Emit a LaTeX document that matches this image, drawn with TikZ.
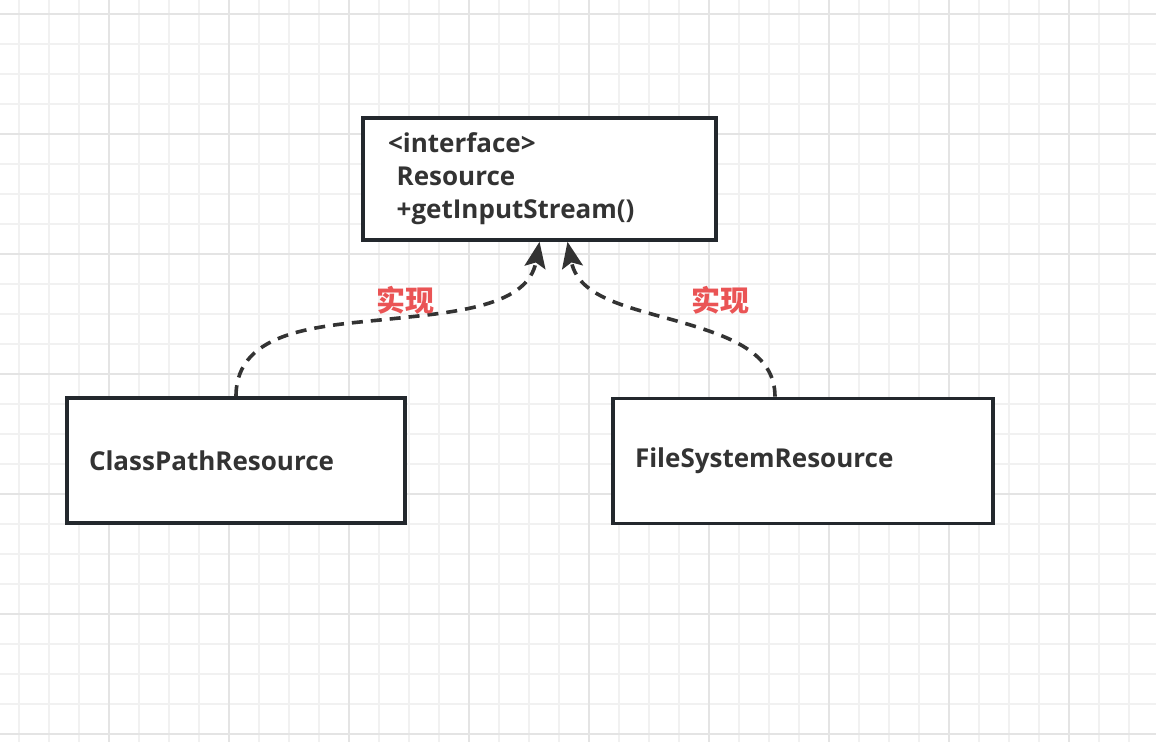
\documentclass[tikz,border=0pt]{standalone}
\usepackage{fontspec}
\setmainfont{Open Sans}
\newfontfamily\cjk{Noto Sans CJK SC}
\usetikzlibrary{arrows.meta}

\definecolor{boxline}{RGB}{35,40,45}
\definecolor{textgray}{RGB}{51,51,51}
\definecolor{arrowgray}{RGB}{51,51,51}
\definecolor{labelred}{RGB}{234,84,85}
\definecolor{gridminor}{RGB}{241,241,241}
\definecolor{gridmajor}{RGB}{228,228,228}

\tikzset{
  classbox/.style={draw=boxline, line width=1.8pt, fill=white, align=left,
    text=textgray, font=\bfseries\fontsize{13pt}{16.5pt}\selectfont,
    inner xsep=11pt, minimum height=62.5pt},
  implements/.style={draw=arrowgray, line width=1.8pt, dash pattern=on 5.5pt off 4pt,
    -{Stealth[length=13pt,width=10.5pt,inset=2.5pt]}},
  implabel/.style={text=labelred, font=\cjk\bfseries\fontsize{14.5pt}{14.5pt}\selectfont}
}

\begin{document}
\begin{tikzpicture}[x=0.5pt,y=0.5pt]

    % Page size and the squared background
    \useasboundingbox (0,0) rectangle (1156,742);
    \fill[white] (0,0) rectangle (1156,742);
    \foreach \gx in {19,49,...,1149}
        \draw[gridminor, line width=0.8pt] (\gx,0) -- (\gx,742);
    \foreach \gy in {8,38,...,728}
        \draw[gridminor, line width=0.8pt] (0,\gy) -- (1156,\gy);
    \foreach \gx in {109,229,...,1069}
        \draw[gridmajor, line width=0.8pt] (\gx,0) -- (\gx,742);
    \foreach \gy in {8,128,...,728}
        \draw[gridmajor, line width=0.8pt] (0,\gy) -- (1156,\gy);

    % The interface and its two classes
    \node[classbox, text width=151.5pt, inner xsep=12.5pt, minimum height=61pt] (res) at (539.5,563)
        {<interface>\\\ Resource\\\ +getInputStream()};
    \node[classbox, text width=147pt] (cpr) at (236,281.5) {ClassPathResource};
    \node[classbox, text width=168pt] (fsr) at (803,281) {FileSystemResource};

    % Bends of the two curved edges
    \coordinate (bendleft) at (390,423);
    \coordinate (bendright) at (700,414);

    % Realisation edges
    \draw[implements] (cpr.north) to[out=90,in=186] (bendleft)
        to[out=6,in=-100] (res.south);
    \draw[implements] ([xshift=-14pt]fsr.north) to[out=90,in=-18] (bendright)
        to[out=162,in=-79] ([xshift=14pt]res.south);

    % Edge labels
    \node[implabel] (lblleft) at (405,442) {实现};
    \node[implabel] (lblright) at (720,442) {实现};

\end{tikzpicture}
\end{document}
